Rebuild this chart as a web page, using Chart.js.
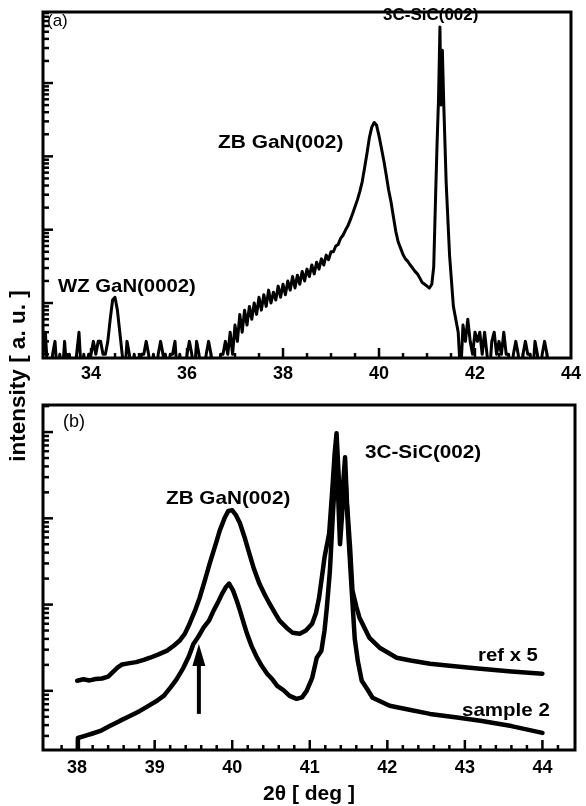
<!DOCTYPE html>
<html><head><meta charset="utf-8">
<script src="https://cdn.jsdelivr.net/npm/chart.js@4.4.1/dist/chart.umd.min.js"></script>
<style>
html,body{margin:0;padding:0;background:#fff;}
body{width:586px;height:806px;position:relative;overflow:hidden;font-family:"Liberation Sans",Arial,sans-serif;}
canvas{position:absolute;left:0;}
#ca{top:0;}
#cb{top:392px;}
.lbl{position:absolute;white-space:nowrap;font-weight:bold;color:#000;line-height:1;transform-origin:0 0;}
</style></head><body>
<canvas id="ca" width="586" height="392"></canvas>
<canvas id="cb" width="586" height="414"></canvas>

<div class="lbl" style="left:47px;top:12px;font-size:17px;font-weight:normal">(a)</div>
<div class="lbl" style="left:383px;top:6px;font-size:17px">3C-SiC(002)</div>
<div class="lbl" style="left:218px;top:132px;font-size:19px;transform:scaleX(1.1)">ZB GaN(002)</div>
<div class="lbl" style="left:58px;top:276px;font-size:19px;transform:scaleX(1.07)">WZ GaN(0002)</div>

<div class="lbl" style="left:63px;top:412px;font-size:18px;font-weight:normal">(b)</div>
<div class="lbl" style="left:166px;top:488px;font-size:19px;transform:scaleX(1.09)">ZB GaN(002)</div>
<div class="lbl" style="left:365px;top:442px;font-size:19px;transform:scaleX(1.09)">3C-SiC(002)</div>
<div class="lbl" style="left:478px;top:645px;font-size:19px;transform:scaleX(1.07)">ref x 5</div>
<div class="lbl" style="left:462px;top:700px;font-size:19px;transform:scaleX(1.08)">sample 2</div>

<div class="lbl" style="left:209px;top:782px;width:200px;text-align:center;font-size:21px">2θ [ deg ]</div>
<div class="lbl" style="left:-102px;top:364px;width:240px;height:24px;line-height:24px;text-align:center;font-size:22.5px;transform-origin:50% 50%;transform:rotate(-90deg)">intensity [ a. u. ]</div>

<script>
// ---------- Panel (a): wide scan ----------
const aTheta = [
33.00,33.05,33.10,33.15,33.20,33.25,33.30,33.35,33.40,33.45,33.50,33.55,33.60,33.65,33.70,33.75,33.80,33.85,33.90,33.95,
34.00,34.05,34.10,34.15,34.20,34.25,34.30,34.35,34.40,34.45,34.50,34.55,34.60,34.65,34.70,34.75,34.80,34.85,34.90,34.95,
35.00,35.05,35.10,35.15,35.20,35.25,35.30,35.35,35.40,35.45,35.50,35.55,35.60,35.65,35.70,35.75,35.80,35.85,35.90,35.95,
36.00,36.05,36.10,36.15,36.20,36.25,36.30,36.35,36.40,36.45,36.50,36.55,36.60,36.65,36.70,36.75,36.80,36.85,36.90,36.95,
37.00,37.05,37.10,37.15,37.20,37.25,37.30,37.35,37.40,37.45,37.50,37.55,37.60,37.65,37.70,37.75,37.80,37.85,37.90,37.95,
38.00,38.05,38.10,38.15,38.20,38.25,38.30,38.35,38.40,38.45,38.50,38.55,38.60,38.65,38.70,38.75,38.80,38.85,38.90,38.95,
39.00,39.05,39.10,39.15,39.20,39.25,39.30,39.35,39.40,39.45,39.50,39.55,39.60,39.65,39.70,39.75,39.80,39.85,39.90,39.95,
40.00,40.05,40.10,40.15,40.20,40.25,40.30,40.35,40.40,40.45,40.50,40.55,40.60,40.65,40.70,40.75,40.80,40.85,40.90,40.95,
41.00,41.05,41.10,41.14,41.18,41.21,41.24,41.27,41.29,41.32,41.35,41.40,41.47,41.55,41.60,41.65,41.70,41.75,41.80,41.85,
41.90,41.95,42.00,42.05,42.10,42.15,42.20,42.25,42.30,42.35,42.40,42.45,42.50,42.55,42.60,42.65,42.70,42.75,42.80,42.85,
42.90,42.95,43.00,43.05,43.10,43.15,43.20,43.25,43.30,43.35,43.40,43.45,43.50,43.55
];
const aCounts = [
2,4,1,1,2,3,1,2,1,3,1,2,1,1,2,4,1,2,1,2,
2,3,2,3,3,2,2,3,6,11,12,8,4,2,1,3,2,1,2,1,
1,2,2,3,2,1,2,1,2,3,2,2,1,2,2,3,1,2,1,1,
2,3,2,1,3,2,1,1,2,3,2,1,1,1,2,2,3,2,4,2,
5,3,7,4,8,5,9,6,10,7,12,8,13,9,15,10,14,11,17,12,
18,13,20,15,23,16,24,18,27,20,29,23,33,25,36,29,40,33,45,39,
50,50,60,63,76,84,98,112,135,165,205,255,330,450,700,1100,1800,2500,2900,2650,
1900,1300,880,560,350,240,150,95,68,56,46,40,37,33,30,27,25,22,19,18,
17,16,18,31,300,1500,6000,58000,5000,28000,5000,430,45,9,6,4,1,5,3,6,
3,2,4,3,4,2,4,2,1,3,4,2,3,2,4,2,2,1,2,3,
2,1,2,3,2,2,1,3,2,1,2,3,2,1
];
const aRange = [33, 44];
const aCountRange = [1.78, 93000];
const aTickLabels = [34, 36, 38, 40, 42, 44];

// ---------- Panel (b): close-up scans ----------
const refTheta = [
38.00,38.08,38.16,38.24,38.32,38.40,38.46,38.52,38.58,38.66,38.76,38.86,38.94,39.05,39.16,39.25,39.32,39.39,39.45,39.52,
39.58,39.65,39.71,39.78,39.84,39.90,39.95,40.00,40.05,40.10,40.16,40.22,40.28,40.35,40.42,40.48,40.55,40.61,40.70,40.78,
40.87,40.95,41.03,41.08,41.12,41.16,41.19,41.25,41.29,41.32,41.345,41.37,41.40,41.43,41.455,41.48,41.52,41.55,41.60,41.64,
41.70,41.77,41.90,42.00,42.12,42.30,42.55,42.90,43.20,43.60,44.00
];
const refCounts = [
13.1,13.6,13.2,13.7,13.9,14.6,16.5,18.6,20.2,20.8,21.5,22.8,24.2,26.5,29.2,33.5,38,46,60,85,
120,195,300,480,725,1000,1220,1240,1080,875,600,392,260,175,130,103,80,65,54,47,
46,50,60,80,120,220,352,670,2120,5500,9700,3500,900,2500,5100,1500,450,146,95,71,
55,41,31.6,28,24.2,22.5,20.6,19.2,18,16.8,15.8
];
const smpTheta = [
38.00,38.01,38.10,38.20,38.30,38.42,38.55,38.68,38.81,38.92,39.03,39.12,39.20,39.28,39.37,39.44,39.50,39.56,39.63,39.70,
39.76,39.82,39.87,39.92,39.96,40.01,40.06,40.10,40.15,40.19,40.25,40.32,40.38,40.45,40.52,40.58,40.66,40.74,40.83,40.90,
40.96,41.03,41.09,41.15,41.19,41.22,41.26,41.30,41.345,41.39,41.455,41.50,41.54,41.58,41.62,41.67,41.74,41.81,42.03,42.30,
42.55,42.90,43.20,43.60,44.00
];
const smpCounts = [
1.5,2.84,3.0,3.2,3.43,3.9,4.48,5.1,5.85,6.7,7.66,8.8,10.8,13.5,18.5,25,35,42,54,65,
85,108,134,160,175,146,110,85,60,46,33,24.2,19.5,15.8,13.5,11.4,10.2,8.75,8.07,8.4,
10,14,24.2,29.2,50,92,250,1200,5500,500,3500,600,150,40,22,13.1,10.5,8.3,6.7,6.0,
5.4,4.9,4.5,3.9,3.25
];
const bRange = [37.56, 44.42];
const bCountRange = [2.06, 20600];
const bTickLabels = [38, 39, 40, 41, 42, 43, 44];
const arrowTheta = 39.57;
const arrowCounts = [5.4, 35];   // tail, tip

// ---------- drawing helpers ----------
const FONT = '"Liberation Sans", Arial, sans-serif';

const frameTicks = {
  id: 'frameTicks',
  afterDatasetsDraw(chart, args, opts) {
    const {ctx, chartArea: a} = chart;
    const x = chart.scales.x, y = chart.scales.y;
    ctx.save();
    ctx.strokeStyle = '#000';
    ctx.fillStyle = '#000';
    ctx.lineCap = 'butt';
    ctx.lineWidth = 2.5;
    x.ticks.forEach(t => {
      const px = x.getPixelForValue(t.value);
      if (px < a.left + 3 || px > a.right - 3) return;
      const major = opts.majors.some(m => Math.abs(m - t.value) < 1e-6);
      const len = major ? 10 : 5;
      ctx.beginPath(); ctx.moveTo(px, a.bottom); ctx.lineTo(px, a.bottom - len); ctx.stroke();
    });
    const e0 = Math.floor(Math.log10(y.min)), e1 = Math.ceil(Math.log10(y.max));
    for (let e = e0; e <= e1; e++) {
      for (let k = 1; k <= 9; k++) {
        const v = k * Math.pow(10, e);
        if (v <= y.min || v >= y.max) continue;
        const py = y.getPixelForValue(v);
        const len = k === 1 ? 10 : 6;
        ctx.beginPath(); ctx.moveTo(a.left, py); ctx.lineTo(a.left + len, py); ctx.stroke();
      }
    }
    ctx.lineWidth = 3;
    ctx.strokeRect(a.left, a.top, a.right - a.left, a.bottom - a.top);
    if (opts.arrow) {
      const ax = x.getPixelForValue(opts.arrow.theta);
      const yTail = y.getPixelForValue(opts.arrow.counts[0]);
      const yTip = y.getPixelForValue(opts.arrow.counts[1]);
      const head = 22, hw = 6.5;
      ctx.lineWidth = 4;
      ctx.beginPath(); ctx.moveTo(ax, yTail); ctx.lineTo(ax, yTip + head - 2); ctx.stroke();
      ctx.beginPath(); ctx.moveTo(ax, yTip); ctx.lineTo(ax - hw, yTip + head); ctx.lineTo(ax + hw, yTip + head); ctx.closePath(); ctx.fill();
    }
    ctx.restore();
  }
};

function makeChart(id, series, xr, yr, step, majors, padTop, xAxisH, lw, tickPad, arrow) {
  return new Chart(document.getElementById(id), {
    type: 'line',
    data: {
      datasets: series.map(s => ({
        data: s.t.map((t, i) => ({x: t, y: s.c[i]})),
        borderColor: '#000', borderWidth: lw, pointRadius: 0, tension: 0,
        borderJoinStyle: 'round', borderCapStyle: 'round', fill: false
      }))
    },
    options: {
      responsive: false, animation: false, devicePixelRatio: 1,
      layout: {padding: {top: padTop, right: 11, left: 0, bottom: 0}},
      plugins: {legend: {display: false}, tooltip: {enabled: false},
        frameTicks: {majors: majors, arrow: arrow}},
      scales: {
        x: {
          type: 'linear', min: xr[0], max: xr[1],
          grid: {display: false, drawTicks: false}, border: {display: false},
          afterFit: sc => { sc.height = xAxisH; },
          ticks: {
            stepSize: step, maxTicksLimit: 200, autoSkip: false, maxRotation: 0, padding: tickPad,
            color: '#000', font: {family: FONT, size: 18, weight: 'bold'},
            callback: v => majors.some(m => Math.abs(m - v) < 1e-6) ? String(Math.round(v)) : ''
          }
        },
        y: {
          type: 'logarithmic', min: yr[0], max: yr[1],
          grid: {display: false, drawTicks: false}, border: {display: false},
          ticks: {display: false},
          afterFit: sc => { sc.width = 43; }
        }
      }
    },
    plugins: [frameTicks]
  });
}

makeChart('ca', [{t: aTheta, c: aCounts}], aRange, aCountRange, 0.5, aTickLabels, 12, 34, 3, 5, null);
makeChart('cb', [{t: refTheta, c: refCounts}, {t: smpTheta, c: smpCounts}], bRange, bCountRange, 0.2, bTickLabels, 13, 56, 4.5, 7,
  {theta: arrowTheta, counts: arrowCounts});
</script>
</body></html>
